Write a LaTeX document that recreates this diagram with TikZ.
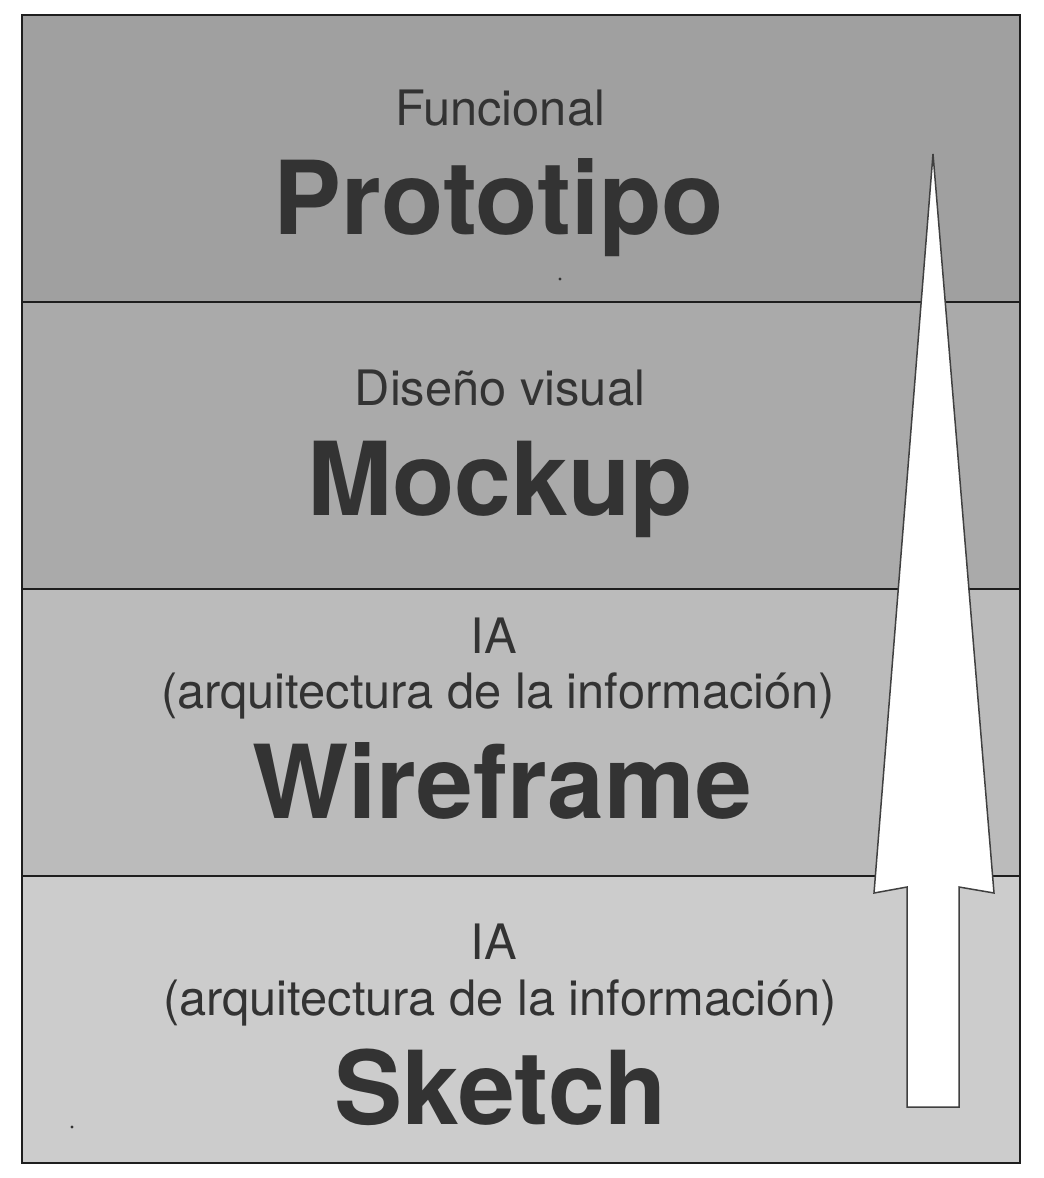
\documentclass[tikz,border=0pt]{standalone}
\usepackage{fontspec}
\setmainfont{TeX Gyre Heros}
\definecolor{bandA}{HTML}{A0A0A0}
\definecolor{bandB}{HTML}{AAAAAA}
\definecolor{bandC}{HTML}{BBBBBB}
\definecolor{bandD}{HTML}{CCCCCC}
\definecolor{ink}{HTML}{333333}
\definecolor{rule}{HTML}{1E1E1E}
\begin{document}
\begin{tikzpicture}[x=1pt,y=-1pt,
  band/.style={draw=rule,line width=1.6pt},
  small/.style={anchor=base,text=ink,inner sep=0pt,font=\fontsize{48.8}{58}\selectfont},
  big/.style={anchor=base,text=ink,inner sep=0pt,font=\fontsize{102}{120}\selectfont\bfseries},
  uparrow/.style={fill=white,draw=rule!85,line width=1.5pt,line join=miter}]
\useasboundingbox (0,0) rectangle (1044,1178);
\fill[white] (0,0) rectangle (1044,1178);
% bands
\filldraw[band,fill=bandA] (22,15) rectangle (1020,302);
\filldraw[band,fill=bandB] (22,302) rectangle (1020,589);
\filldraw[band,fill=bandC] (22,589) rectangle (1020,876);
\filldraw[band,fill=bandD] (22,876) rectangle (1020,1163);
\draw[draw=rule,line width=2pt] (22,15) rectangle (1020,1163);
% arrow
\draw[uparrow] (933,154) -- (994,893) -- (959,887) -- (959,1107) -- (907,1107) -- (907,887) -- (874,893) -- cycle;
% texts
\node[small] (t1) at (500,125) {Funcional};
\node[big] (b1) at (499,234) {Prototipo};
\node[small] (t2) at (500,405) {Diseño visual};
\node[big] (b2) at (500,515) {Mockup};
\node[small] (t3a) at (494,653) {IA};
\node[small] (t3b) at (498,708) {(arquitectura de la información)};
\node[big] (b3) at (502,818) {Wireframe};
\node[small] (t4a) at (494,959) {IA};
\node[small] (t4b) at (500,1015) {(arquitectura de la información)};
\node[big] (b4) at (501,1124) {Sketch};
% tiny dots
\fill[ink] (560,279) circle (1.6);
\fill[ink] (72,1127) circle (1.6);
\end{tikzpicture}
\end{document}
